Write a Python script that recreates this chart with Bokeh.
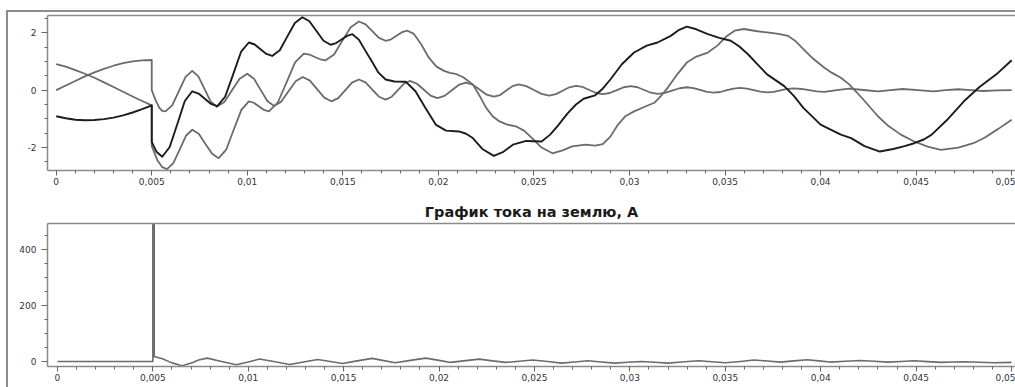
from bokeh.plotting import figure
from bokeh.layouts import column, row
from bokeh.models import FixedTicker, Range1d, Div, Spacer, LinearAxis
from bokeh.embed import file_html
from bokeh.resources import INLINE

# ---- data (time in s, current) ----
phase_a = [(0, 0), (0.0005, 0.16), (0.001, 0.32), (0.0015, 0.48), (0.002, 0.62), (0.0025, 0.74),
           (0.003, 0.85), (0.0035, 0.94), (0.004, 1.0), (0.0045, 1.04), (0.005, 1.05), (0.005, 0.0),
           (0.0052, -0.35), (0.0054, -0.62), (0.00555, -0.72), (0.00572, -0.74),
           (0.00607, -0.53), (0.00642, -0.035), (0.00677, 0.46), (0.00712, 0.67),
           (0.00744, 0.48), (0.00776, 0.045), (0.00808, -0.39), (0.0084, -0.58),
           (0.0088, -0.41), (0.0092, -0.005), (0.0096, 0.4), (0.01, 0.57),
           (0.01035, 0.4), (0.0107, 0.01), (0.01105, -0.38), (0.0114, -0.55),
           (0.01178, -0.4), (0.01215, -0.045), (0.01253, 0.31), (0.0129, 0.46),
           (0.01328, 0.33), (0.01365, 0.035), (0.01403, -0.26), (0.0144, -0.39),
           (0.01476, -0.28), (0.01512, -0.01), (0.01548, 0.26), (0.01584, 0.37),
           (0.01619, 0.27), (0.01654, 0.02), (0.01689, -0.23), (0.01724, -0.33),
           (0.01756, -0.23), (0.01787, -0.005), (0.01819, 0.22), (0.0185, 0.32),
           (0.01886, 0.23), (0.01923, 0.02), (0.01959, -0.19), (0.01995, -0.28),
           (0.02032, -0.2), (0.02069, -0.01), (0.02106, 0.18), (0.02143, 0.26),
           (0.0218, 0.19), (0.02217, 0.015), (0.02253, -0.16), (0.0229, -0.23),
           (0.02323, -0.17), (0.02355, -0.015), (0.02388, 0.14), (0.0242, 0.2),
           (0.0246, 0.14), (0.025, 0.005), (0.0254, -0.13), (0.0258, -0.19),
           (0.02615, -0.14), (0.0265, -0.02), (0.02685, 0.1), (0.0272, 0.15),
           (0.02755, 0.11), (0.0279, 0.005), (0.02825, -0.1), (0.0286, -0.14),
           (0.02897, -0.1), (0.02934, 0.0), (0.0297, 0.1), (0.03007, 0.14),
           (0.03042, 0.1), (0.03077, 0.005), (0.03112, -0.09), (0.03147, -0.13),
           (0.03185, -0.095), (0.03223, -0.015), (0.03262, 0.065), (0.033, 0.1),
           (0.03335, 0.07), (0.0337, 0.005), (0.03405, -0.06), (0.0344, -0.09),
           (0.03475, -0.065), (0.0351, 0.0), (0.03545, 0.055), (0.0358, 0.08),
           (0.03615, 0.055), (0.0365, 0.0), (0.03685, -0.055), (0.0372, -0.08),
           (0.03755, -0.06), (0.0379, -0.01), (0.03825, 0.04), (0.0386, 0.06),
           (0.039, 0.04), (0.0394, 0.0), (0.0398, -0.04), (0.0402, -0.06),
           (0.04085, 0.0), (0.0415, 0.05), (0.04225, 0.005), (0.043, -0.04), (0.04365, 0.0),
           (0.0443, 0.04), (0.0451, 0.0), (0.0459, -0.04), (0.04655, 0.0), (0.0472, 0.03),
           (0.04785, 0.0), (0.0485, -0.03), (0.04925, -0.01), (0.05, 0.0)]

phase_b = [(0, 0.91), (0.0005, 0.82), (0.001, 0.7), (0.0015, 0.57), (0.002, 0.43), (0.0025, 0.27),
           (0.003, 0.11), (0.0035, -0.055), (0.004, -0.22), (0.0045, -0.38), (0.005, -0.53), (0.005, -1.95),
           (0.0053, -2.45), (0.00555, -2.68), (0.0058, -2.75),
           (0.00613, -2.54), (0.00646, -2.07), (0.00679, -1.59), (0.00712, -1.38),
           (0.00747, -1.53), (0.00781, -1.88), (0.00816, -2.22), (0.0085, -2.37),
           (0.0089, -2.07), (0.00929, -1.38), (0.00969, -0.69), (0.01008, -0.39),
           (0.01034, -0.44), (0.0106, -0.565), (0.01087, -0.69), (0.01113, -0.74),
           (0.01159, -0.44), (0.01205, 0.265), (0.0125, 0.97), (0.01296, 1.27),
           (0.01325, 1.24), (0.01353, 1.155), (0.01382, 1.075), (0.0141, 1.04),
           (0.01454, 1.24), (0.01497, 1.715), (0.01541, 2.19), (0.01584, 2.39),
           (0.01619, 2.29), (0.01654, 2.055), (0.01689, 1.82), (0.01724, 1.72),
           (0.01753, 1.77), (0.01781, 1.895), (0.0181, 2.02), (0.01838, 2.07),
           (0.0187, 1.97), (0.0191, 1.6), (0.0195, 1.13), (0.0199, 0.82), (0.0203, 0.67),
           (0.0206, 0.6), (0.0209, 0.57), (0.0213, 0.45), (0.0218, 0.2), (0.0222, -0.25),
           (0.0225, -0.62), (0.02285, -0.92), (0.0232, -1.09), (0.0236, -1.2), (0.02405, -1.26),
           (0.0245, -1.42), (0.0249, -1.67), (0.0254, -2.0), (0.02597, -2.2), (0.0265, -2.1),
           (0.027, -1.96), (0.0277, -1.9), (0.0282, -1.93), (0.0286, -1.88), (0.029, -1.62),
           (0.0294, -1.2), (0.0298, -0.9), (0.03024, -0.74), (0.0308, -0.58), (0.0313, -0.44),
           (0.03165, -0.2), (0.032, 0.08), (0.0325, 0.55), (0.033, 0.96), (0.0335, 1.17),
           (0.0341, 1.31), (0.0346, 1.55), (0.0351, 1.89), (0.0355, 2.07), (0.036, 2.13),
           (0.0366, 2.06), (0.0372, 2.01), (0.0378, 1.96), (0.0383, 1.89), (0.0387, 1.7),
           (0.0391, 1.43), (0.0396, 1.1), (0.0402, 0.78), (0.0406, 0.6), (0.04106, 0.43),
           (0.0415, 0.2), (0.0422, -0.3), (0.043, -0.91), (0.0435, -1.22), (0.0442, -1.55),
           (0.0449, -1.79), (0.0456, -1.97), (0.0463, -2.08), (0.0472, -2.0), (0.048, -1.85),
           (0.0486, -1.65), (0.0493, -1.35), (0.05, -1.03)]

phase_c = [(0, -0.91), (0.0005, -0.98), (0.001, -1.03), (0.0015, -1.05), (0.002, -1.04), (0.0025, -1.01),
           (0.003, -0.96), (0.0035, -0.88), (0.004, -0.78), (0.0045, -0.66), (0.005, -0.53), (0.005, -1.8),
           (0.00525, -2.15), (0.00555, -2.32),
           (0.00594, -1.98), (0.00634, -1.18), (0.00673, -0.38), (0.00712, -0.04),
           (0.00745, -0.12), (0.00778, -0.3), (0.0081, -0.48), (0.00843, -0.56),
           (0.00884, -0.23), (0.00926, 0.55), (0.00967, 1.33), (0.01008, 1.66),
           (0.01039, 1.59), (0.01069, 1.425), (0.011, 1.26), (0.0113, 1.19),
           (0.0117, 1.39), (0.01209, 1.865), (0.01249, 2.34), (0.01288, 2.54),
           (0.01325, 2.4), (0.01362, 2.06), (0.01399, 1.72), (0.01436, 1.58),
           (0.01465, 1.64), (0.01493, 1.765), (0.01522, 1.89), (0.0155, 1.95),
           (0.01585, 1.75), (0.0162, 1.35), (0.0165, 1.02), (0.01685, 0.62), (0.01724, 0.37),
           (0.0177, 0.3), (0.0183, 0.29), (0.0188, -0.04), (0.0193, -0.6), (0.01986, -1.2),
           (0.0204, -1.41), (0.02108, -1.44), (0.02145, -1.52), (0.0218, -1.67), (0.0223, -2.05),
           (0.0229, -2.29), (0.0234, -2.15), (0.0239, -1.9), (0.0246, -1.77), (0.0254, -1.79),
           (0.02585, -1.55), (0.0263, -1.2), (0.02675, -0.82), (0.0272, -0.5), (0.0276, -0.3),
           (0.0282, -0.18), (0.0286, 0.05), (0.029, 0.37), (0.0296, 0.9), (0.03024, 1.31),
           (0.0309, 1.55), (0.03147, 1.66), (0.03216, 1.89), (0.0326, 2.1), (0.033, 2.21),
           (0.0335, 2.12), (0.0341, 1.95), (0.0347, 1.82), (0.0353, 1.72), (0.03575, 1.52),
           (0.0362, 1.25), (0.0367, 0.9), (0.0372, 0.55), (0.0381, 0.14), (0.0386, -0.2),
           (0.0391, -0.62), (0.04, -1.2), (0.04106, -1.55), (0.0416, -1.67), (0.0423, -1.95),
           (0.0431, -2.14), (0.0438, -2.05), (0.0444, -1.95), (0.0449, -1.85), (0.0454, -1.72),
           (0.0458, -1.56), (0.0466, -1.05), (0.0475, -0.39), (0.0483, 0.1), (0.0492, 0.55),
           (0.05, 1.04)]

ground = [(0, 0), (0.005, 0), (0.005, 2000), (0.00507, 2000), (0.00507, 18), (0.0055, 10), (0.006, -5),
          (0.00653, -15), (0.0071, -4), (0.0074, 5), (0.00785, 12), (0.0086, 0), (0.00937, -12), (0.0100, -2),
          (0.01059, 8.5), (0.0114, -1), (0.01216, -10.7), (0.0129, -2), (0.01364, 7.2), (0.0143, 0),
          (0.01494, -7), (0.0157, 2), (0.0165, 11), (0.0171, 3), (0.0177, -4.7), (0.0185, 4), (0.0193, 12),
          (0.0200, 4), (0.0206, -3.4), (0.0214, 3), (0.0221, 8.5), (0.0228, 2), (0.0235, -3.4), (0.0242, 1),
          (0.0249, 5), (0.0257, 0), (0.0264, -5.9), (0.0271, -2), (0.0278, 2.5), (0.0285, -2), (0.0292, -5.9),
          (0.0299, -3), (0.0306, 0), (0.0313, -3), (0.0320, -5.9), (0.0327, -2), (0.0336, 2.5), (0.0343, -1),
          (0.0350, -4.7), (0.0358, 0), (0.0365, 5), (0.0372, 1.5), (0.0379, -2.2), (0.0386, 2), (0.0393, 6),
          (0.0399, 2), (0.0405, -2.2), (0.0413, 0.7), (0.0421, 3.7), (0.0428, 0.7), (0.0435, -2.2), (0.0442, 0),
          (0.0449, 2.5), (0.0456, -0.5), (0.0463, -3.4), (0.0469, -2), (0.0475, -1), (0.0483, -3),
          (0.0491, -4.7), (0.0500, -3.4)]

x_ticks = [0, 0.005, 0.01, 0.015, 0.02, 0.025, 0.03, 0.035, 0.04, 0.045, 0.05]
x_tick_labels = ["0", "0,005", "0,01", "0,015", "0,02", "0,025", "0,03", "0,035", "0,04", "0,045", "0,05"]
top_y_ticks = [-2, 0, 2]
top_y_labels = ["-2", "0", "2"]
bot_y_ticks = [0, 200, 400]
bot_y_labels = ["0", "200", "400"]
title_bottom = "График тока на землю, А"

FONT = "DejaVu Sans"
AX = "#8a8a8a"
GRAY = "#6b6b6b"
BLACK = "#1c1c1c"
FRAME = "#8c8c8c"

x_minor = [round(i * 0.001, 3) for i in range(0, 51)]


def style(p, yt, yl, ymin):
    p.xgrid.visible = False
    p.ygrid.visible = False
    p.outline_line_color = None
    p.xaxis.ticker = FixedTicker(ticks=x_ticks, minor_ticks=x_minor)
    p.xaxis.major_label_overrides = {t: l for t, l in zip(x_ticks, x_tick_labels)}
    p.yaxis.ticker = FixedTicker(ticks=yt, minor_ticks=ymin)
    p.yaxis.major_label_overrides = {t: l for t, l in zip(yt, yl)}
    for ax in (p.xaxis[0], p.yaxis[0]):
        ax.axis_line_color = AX
        ax.axis_line_width = 1.5
        ax.major_tick_line_color = "#666666"
        ax.minor_tick_line_color = "#666666"
        ax.major_tick_in = 0
        ax.minor_tick_in = 0
        ax.minor_tick_out = 3
        ax.major_label_text_font = FONT
        ax.major_label_text_font_size = "9px"
        ax.major_label_text_color = "#333333"
    p.xaxis[0].major_tick_out = 5
    p.xaxis[0].major_label_standoff = 2
    p.yaxis[0].major_tick_out = 6
    p.yaxis[0].major_label_standoff = 5
    # top edge of the frame only (the right edge is outside the view in the reference)
    top = LinearAxis(ticker=FixedTicker(ticks=[]), axis_line_color=AX, axis_line_width=1.5,
                     major_tick_line_color=None, minor_tick_line_color=None,
                     major_label_text_font_size="0px", major_tick_out=0, minor_tick_out=0,
                     major_label_standoff=0)
    p.add_layout(top, "above")


p1 = figure(width=1007, height=181, x_range=Range1d(-0.000455, 0.0502), y_range=Range1d(-2.8, 2.6),
            output_backend="svg", toolbar_location=None,
            min_border_left=39, min_border_right=0, min_border_top=3, min_border_bottom=23)
style(p1, top_y_ticks, top_y_labels, [-2.5, -1.5, -1, -0.5, 0.5, 1, 1.5, 2.5])

for pts, col, w in ((phase_a, GRAY, 1.8), (phase_b, GRAY, 1.8), (phase_c, BLACK, 1.9)):
    t, v = zip(*pts)
    p1.line(list(t), list(v), line_color=col, line_width=w, line_join="round")

p2 = figure(width=1007, height=193, x_range=Range1d(-0.000522, 0.05021), y_range=Range1d(-18, 493),
            output_backend="svg", toolbar_location=None,
            min_border_left=36, min_border_right=0, min_border_top=30, min_border_bottom=20)
style(p2, bot_y_ticks, bot_y_labels, [50, 100, 150, 250, 300, 350, 450])
p2.title.text = title_bottom
p2.title.align = "center"
p2.title.text_font = FONT
p2.title.text_font_style = "bold"
p2.title.text_font_size = "14.5px"
p2.title.text_color = "#1a1a1a"
p2.title.standoff = 7

tg, vg = zip(*ground)
p2.line(list(tg), list(vg), line_color=GRAY, line_width=1.6, line_join="round")

left_line = Div(text="", width=2, height=377, margin=0, styles={"background-color": FRAME})
top_line = Div(text="", width=1007, height=2, margin=0, styles={"background-color": FRAME})

layout = column(Spacer(height=10, margin=0),
                row(Spacer(width=6, margin=0), left_line, column(top_line, p1, p2, spacing=0), spacing=0),
                spacing=0)

open("out.html", "w").write(file_html(layout, INLINE))
